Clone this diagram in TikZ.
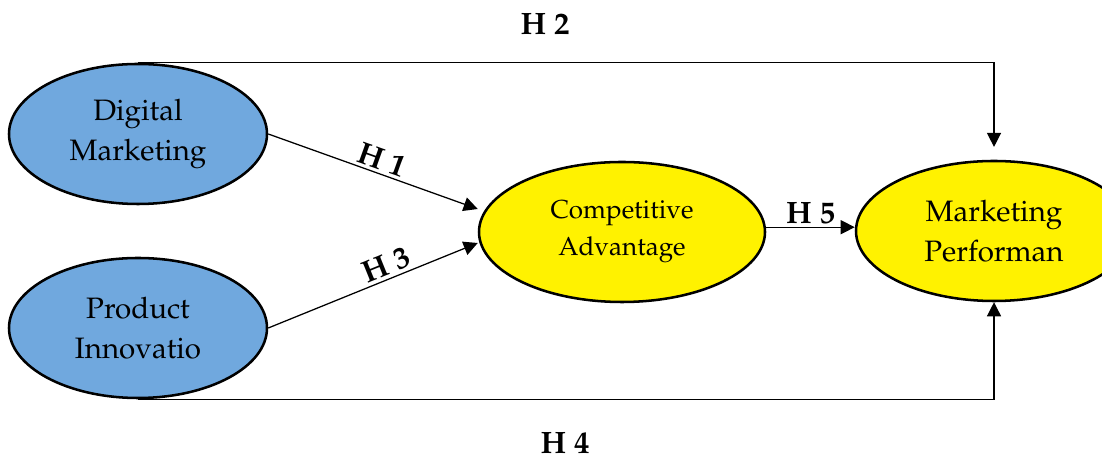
\documentclass[tikz,border=0pt]{standalone}
\usepackage[T1]{fontenc}
\usepackage{palatino}
\usetikzlibrary{shapes.geometric,arrows.meta}
\definecolor{latentblue}{RGB}{112,168,222}
\begin{document}
\begin{tikzpicture}[line width=0.9pt,
  construct/.style={ellipse,draw,line width=1.8pt,inner sep=0pt,
    minimum width=6.45cm,minimum height=3.5cm,align=center,
    font=\fontsize{21}{28.5}\selectfont},
  arr/.style={-{Triangle[length=10pt,width=10pt]}},
  hyp/.style={font=\fontsize{22}{26}\selectfont\bfseries,inner sep=2pt}]
  \useasboundingbox (0,0) rectangle (27.55,11.525);
  % independent constructs
  \node[construct,fill=latentblue] (DM) at (3.45,8.175) {Digital\\ Marketing};
  \node[construct,fill=latentblue] (PI) at (3.45,3.325) {Product\\ Innovatio};
  % mediator and outcome
  \node[construct,fill=yellow,minimum width=7.15cm,
    font=\fontsize{18.5}{26.3}\selectfont] (CA) at (15.55,5.725)
    {Competitive\\ Advantage};
  \node[construct,fill=yellow,minimum width=6.9cm] (MP) at (24.85,5.75)
    {Marketing\\ Performan};
  % hypothesis paths
  \draw[arr] (DM.east) -- node[hyp,sloped,above,pos=0.52] (h1) {H 1}
    ([yshift=5.75mm]CA.west);
  \draw[arr] (PI.east) -- node[hyp,sloped,above,pos=0.59] (h3) {H 3}
    ([yshift=-2.75mm]CA.west);
  \coordinate (ca5) at ([yshift=1.2mm]CA.east);
  \draw[arr] (ca5) -- node[hyp,above] (h5) {H 5} (ca5 -| MP.west);
  \draw[arr] (DM.north) -| ([yshift=3.2mm]MP.north);
  \draw[arr] (PI.south) -| (MP.south);
  % direct path labels
  \node[hyp] (h2) at (13.625,10.925) {H 2};
  \node[hyp] (h4) at (14.125,0.45) {H 4};
\end{tikzpicture}
\end{document}
